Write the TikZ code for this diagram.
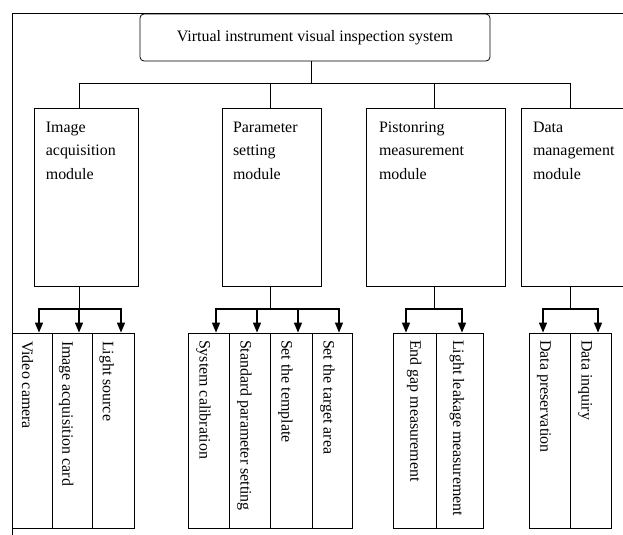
\documentclass[tikz,border=0pt]{standalone}
\usepackage{fontspec}
\setmainfont{Liberation Serif}
\usetikzlibrary{arrows.meta}
\tikzset{
  sysbox/.style={draw, rounded corners=4bp, minimum width=350bp, minimum height=47bp, inner sep=0pt},
  modbox/.style={draw, minimum height=178bp, inner sep=0pt},
  modtext/.style={anchor=north west, align=left, inner sep=0pt},
  subbox/.style={draw, minimum height=195.5bp, inner sep=0pt},
  subtext/.style={anchor=base west, rotate=-90, inner sep=0pt},
  busarrows/.style={line width=1.3bp, {Triangle[length=10bp,width=8bp]}-{Triangle[length=10bp,width=8bp]}},
  midarrow/.style={line width=1.3bp, -{Triangle[length=10bp,width=8bp]}}
}
\begin{document}
\begin{tikzpicture}[x=1bp,y=-1bp,line width=0.8bp,font=\fontsize{16}{23.5}\selectfont]
\useasboundingbox (0,0) rectangle (623,535);
% frame
\draw (623,13) -- (12,13) -- (12,535);

% top
\node[sysbox] (sys) at (315,37.5) {Virtual instrument visual inspection system};
\coordinate (tb) at (311,83);
\coordinate (t1) at (79,83);
\coordinate (t2) at (270,83);
\coordinate (t3) at (434,83);
\coordinate (t4) at (570,83);
\draw (sys.south -| tb) -- (tb);
\draw (t1) -- (t4);

% modules
\node[modbox, minimum width=103.7bp] (img) at (86.2,197) {};
\node[modbox, minimum width=99bp] (par) at (271.5,197) {};
\node[modbox, minimum width=139bp] (pis) at (435.5,197) {};
\node[modbox, minimum width=106bp] (dat) at (574,197) {};
\node[modtext] (imgt) at ([shift={(11.5,14)}]img.north west) {Image\\acquisition\\module};
\node[modtext] (part) at ([shift={(11,14)}]par.north west) {Parameter\\setting\\module};
\node[modtext] (pist) at ([shift={(13,14)}]pis.north west) {Pistonring\\measurement\\module};
\node[modtext] (datt) at ([shift={(12,14)}]dat.north west) {Data\\management\\module};
\draw (t1) -- (t1 |- img.north);
\draw (t2) -- (t2 |- par.north);
\draw (t3) -- (t3 |- pis.north);
\draw (t4) -- (t4 |- dat.north);

% sub functions
\node[subbox, minimum width=40bp] (vc) at (32,430.75) {};
\node[subbox, minimum width=40bp] (iac) at (72,430.75) {};
\node[subbox, minimum width=42bp] (ls) at (113,430.75) {};
\node[subbox, minimum width=41bp] (sc) at (208.5,430.75) {};
\node[subbox, minimum width=41bp] (sps) at (249.5,430.75) {};
\node[subbox, minimum width=42bp] (stt) at (291,430.75) {};
\node[subbox, minimum width=40bp] (sta) at (332,430.75) {};
\node[subbox, minimum width=42.7bp] (egm) at (414.7,430.75) {};
\node[subbox, minimum width=47.3bp] (llm) at (459.7,430.75) {};
\node[subbox, minimum width=40.7bp] (dp) at (549.7,430.75) {};
\node[subbox, minimum width=41.7bp] (di) at (590.9,430.75) {};

\node[subtext] at ([shift={(10.5,8)}]vc.north west) {Video camera};
\node[subtext] at ([shift={(10.7,8)}]iac.north west) {Image acquisition card};
\node[subtext] at ([shift={(11.3,8)}]ls.north west) {Light source};
\node[subtext] at ([shift={(12,7)}]sc.north west) {System calibration};
\node[subtext] at ([shift={(12,7)}]sps.north west) {Standard parameter setting};
\node[subtext] at ([shift={(12,7)}]stt.north west) {Set the template};
\node[subtext] at ([shift={(12,7)}]sta.north west) {Set the target area};
\node[subtext] at ([shift={(17.5,7)}]egm.north west) {End gap measurement};
\node[subtext] at ([shift={(17.5,7)}]llm.north west) {Light leakage measurement};
\node[subtext] at ([shift={(11.5,7)}]dp.north west) {Data preservation};
\node[subtext] at ([shift={(12,7)}]di.north west) {Data inquiry};

% branches
\coordinate (g1) at (79,309);
\coordinate (a11) at (39,309);
\coordinate (a13) at (121,309);
\draw (g1 |- img.south) -- (g1);
\draw[busarrows] (a11 |- vc.north) -- (a11) -- (a13) -- (a13 |- ls.north);
\draw[midarrow] (g1) -- (g1 |- iac.north);

\coordinate (g2) at (270,309);
\coordinate (a21) at (216,309);
\coordinate (a22) at (257,309);
\coordinate (a23) at (298,309);
\coordinate (a24) at (339,309);
\draw (g2 |- par.south) -- (g2);
\draw[busarrows] (a21 |- sc.north) -- (a21) -- (a24) -- (a24 |- sta.north);
\draw[midarrow] (a22) -- (a22 |- sps.north);
\draw[midarrow] (a23) -- (a23 |- stt.north);

\coordinate (g3) at (434,309);
\coordinate (a31) at (406,309);
\coordinate (a32) at (462,309);
\draw (g3 |- pis.south) -- (g3);
\draw[busarrows] (a31 |- egm.north) -- (a31) -- (a32) -- (a32 |- llm.north);

\coordinate (g4) at (570,309);
\coordinate (a41) at (543,309);
\coordinate (a42) at (598,309);
\draw (g4 |- dat.south) -- (g4);
\draw[busarrows] (a41 |- dp.north) -- (a41) -- (a42) -- (a42 |- di.north);
\end{tikzpicture}
\end{document}
